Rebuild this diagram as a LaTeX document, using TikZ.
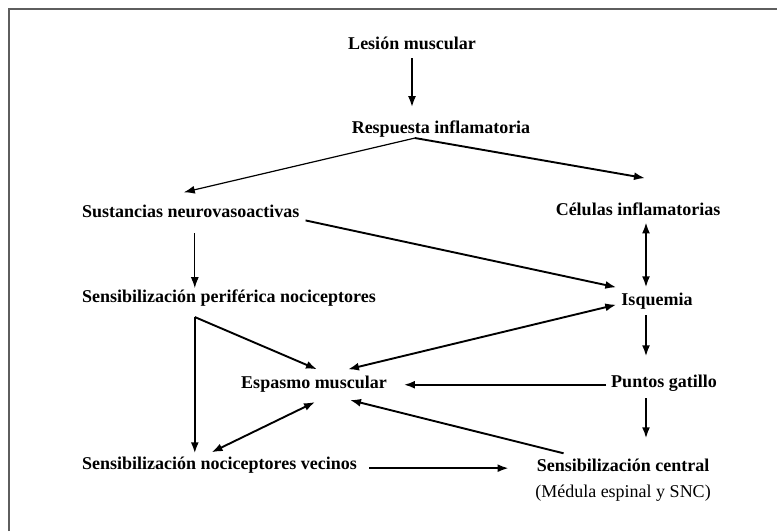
\documentclass[tikz,border=0pt]{standalone}
\usepackage{fontspec}
\setmainfont{Liberation Serif}
\usetikzlibrary{arrows.meta}
\definecolor{marco}{HTML}{5E5E5E}

\begin{document}
\begin{tikzpicture}[
    x=1pt, y=1pt,
    >={Latex[length=11pt,width=8pt]},
    etiqueta/.style={inner sep=0pt, anchor=base, font=\bfseries\fontsize{18}{20}\selectfont},
    nota/.style={inner sep=0pt, anchor=base, font=\fontsize{18}{20}\selectfont},
    flecha/.style={->, line width=1.9pt},
    doble/.style={<->, line width=1.9pt},
    fina/.style={->, line width=1.2pt}
  ]
  \useasboundingbox (0,0) rectangle (777,-531);
  \draw[marco, line width=2pt] (9,-531) -- (9,-9) -- (777,-9);

  \node[etiqueta] (lesion) at (412,-49) {Lesión muscular};
  \node[etiqueta] (respuesta) at (441,-133) {Respuesta inflamatoria};
  \node[etiqueta, anchor=base west] (sustancias) at (82,-217) {Sustancias neurovasoactivas};
  \node[etiqueta] (celulas) at (638,-215) {Células inflamatorias};
  \node[etiqueta, anchor=base west] (periferica) at (82,-302) {Sensibilización periférica nociceptores};
  \node[etiqueta] (isquemia) at (657,-305) {Isquemia};
  \node[etiqueta] (espasmo) at (314,-388) {Espasmo muscular};
  \node[etiqueta] (puntos) at (664,-387) {Puntos gatillo};
  \node[etiqueta, anchor=base west] (vecinos) at (82,-469) {Sensibilización nociceptores vecinos};
  \node[etiqueta] (central) at (623,-471) {Sensibilización central};
  \node[nota] (medula) at (623,-497) {(Médula espinal y SNC)};

  \draw[flecha, shorten <=9pt, shorten >=13pt] (lesion.south) -- (lesion.south |- respuesta.north);

  % respuesta inflamatoria se abre en dos
  \coordinate (vertice) at ([xshift=-26pt,yshift=-1pt]respuesta.south);
  \draw[fina] (vertice) -- ([xshift=-7pt,yshift=12pt]sustancias.north);
  \draw[flecha] (vertice) -- ([xshift=7pt,yshift=24pt]celulas.north);

  \draw[doble, shorten <=7pt, shorten >=5pt] ([xshift=8pt]celulas.south) -- ([xshift=8pt]celulas.south |- isquemia.north);
  \draw[flecha] ([xshift=6pt,yshift=-3pt]sustancias.south east) -- ([xshift=-5pt,yshift=5pt]isquemia.north west);
  \draw[fina, shorten <=16pt, shorten >=1pt] ([xshift=4pt]sustancias.south) -- ([xshift=4pt]sustancias.south |- periferica.north);

  % de la sensibilizacion periferica
  \coordinate (esquina) at ([xshift=4pt,yshift=-11pt]sustancias.south |- periferica.south);
  \draw[flecha, shorten >=3pt] (esquina) -- (esquina |- vecinos.north);
  \draw[flecha] (esquina) -- ([xshift=3pt,yshift=6pt]espasmo.north);

  \draw[doble] ([xshift=34pt,yshift=6pt]espasmo.north) -- ([xshift=-5pt,yshift=-4pt]isquemia.west);
  \draw[flecha, shorten <=6pt, shorten >=18pt] ([xshift=-11pt]isquemia.south) -- ([xshift=-11pt]isquemia.south |- puntos.north);
  \draw[flecha, shorten <=5pt, shorten >=17pt] ([yshift=-2pt]puntos.west) -- ([yshift=-2pt]puntos.west -| espasmo.east);
  \draw[flecha, shorten <=7pt, shorten >=20pt] ([xshift=-18pt]puntos.south) -- ([xshift=-18pt]puntos.south |- central.north);

  \draw[doble] ([xshift=-8pt,yshift=4pt]vecinos.north) -- ([xshift=1pt,yshift=-10pt]espasmo.south);
  \draw[flecha, shorten <=12pt, shorten >=28pt] ([yshift=-3.5pt]vecinos.east) -- ([yshift=-3.5pt]vecinos.east -| central.west);
  \draw[flecha] ([xshift=27pt,yshift=5pt]central.north west) -- ([xshift=36pt,yshift=-8pt]espasmo.south);
\end{tikzpicture}
\end{document}
